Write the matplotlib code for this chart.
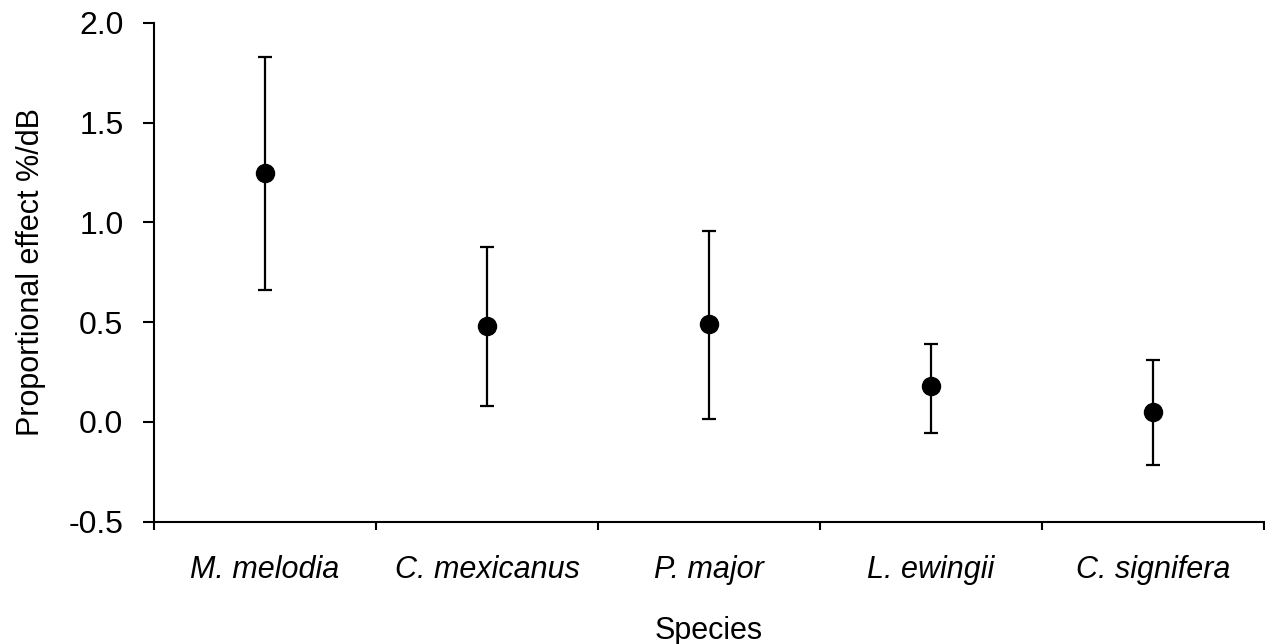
import matplotlib
matplotlib.use("Agg")
import matplotlib.pyplot as plt
import numpy as np

species = ["M. melodia", "C. mexicanus", "P. major", "L. ewingii", "C. signifera"]
effect = [1.25, 0.48, 0.49, 0.18, 0.05]
upper = [1.83, 0.875, 0.955, 0.39, 0.31]
lower = [0.66, 0.08, 0.013, -0.055, -0.215]

plt.rcParams['font.family'] = ['Liberation Sans', 'DejaVu Sans']

fig = plt.figure(figsize=(12.65, 6.44), dpi=100)
ax = fig.add_axes([154/1265, 1-521.7/644, 1110/1265, (521.7-23)/644])

x = np.arange(len(species)) + 0.5
eff = np.array(effect)
yerr = np.vstack([eff - np.array(lower), np.array(upper) - eff])
ax.errorbar(x, eff, yerr=yerr, fmt='o', color='black', ecolor='black',
            markersize=13, elinewidth=1.6, capsize=4.8, capthick=1.6)

ax.set_xlim(0, 5)
ax.set_ylim(-0.5, 2.0)
ax.set_yticks([-0.5, 0.0, 0.5, 1.0, 1.5, 2.0])
ax.set_yticklabels(["-0.5", "0.0", "0.5", "1.0", "1.5", "2.0"])
ax.set_xticks(np.arange(0, 6))
ax.set_xticklabels([])
ax.set_xticks(x, minor=True)
ax.set_xticklabels(species, minor=True, fontstyle='italic', fontsize=22)
ax.tick_params(axis='x', which='minor', length=0, pad=24)
ax.tick_params(axis='x', which='major', length=6, width=1.5, direction='out')
ax.tick_params(axis='y', length=8, width=1.5, direction='out', labelsize=23, pad=14)

for s in ['top', 'right']:
    ax.spines[s].set_visible(False)
for s in ['left', 'bottom']:
    ax.spines[s].set_linewidth(1.5)
ax.spines['bottom'].set_clip_on(False)

ax.set_xlabel("Species", fontsize=22, labelpad=22)
ax.set_ylabel("Proportional effect %/dB", fontsize=22, labelpad=16)

fig.savefig("out.png", dpi=100)
